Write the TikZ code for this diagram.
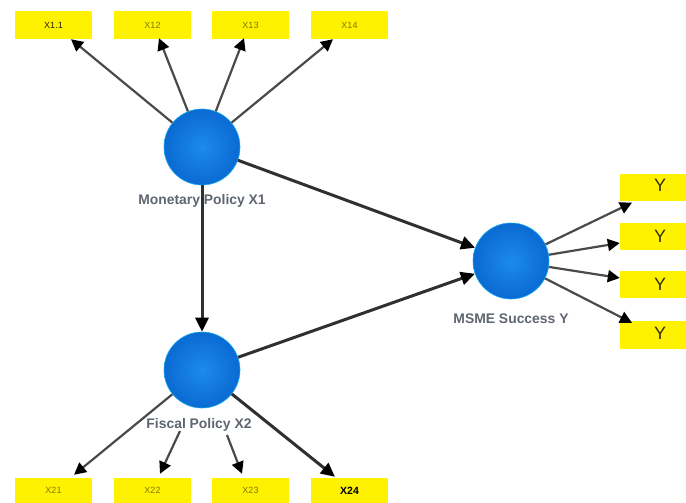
\documentclass[tikz,border=0pt]{standalone}
\usepackage{fontspec}
\setmainfont{Liberation Sans}
\usetikzlibrary{arrows.meta}
\definecolor{boxyellow}{HTML}{FFF200}
\definecolor{ballmid}{HTML}{1C8AEE}
\definecolor{ballrim}{HTML}{0A6AD2}
\definecolor{labelgrey}{HTML}{5F6670}
\definecolor{wire}{HTML}{4A4A4A}
\definecolor{wiredark}{HTML}{303030}
\tikzset{
  yellowbox/.style={fill=boxyellow,draw=none,minimum width=77pt,minimum height=28pt,inner sep=0pt,font=\fontsize{9}{10}\selectfont,text=#1},
  yellowbox/.default={black!50!boxyellow},
  ybox/.style={fill=boxyellow,draw=none,minimum width=66pt,minimum height=27pt,inner sep=0pt,font=\fontsize{18}{20}\selectfont,text=black!80!boxyellow},
  ball/.style={circle,minimum size=76pt,inner sep=0pt,draw=ballmid!70!cyan,line width=0.6pt,inner color=ballmid,outer color=ballrim},
  balllabel/.style={font=\bfseries\fontsize{13.9}{15}\selectfont,text=labelgrey,inner sep=1pt},
  wirethin/.style={wire,line width=2.2pt,-{Triangle[length=12pt,width=12pt,color=black]}},
  wirethick/.style={wiredark,line width=3pt,-{Triangle[length=14pt,width=13pt,color=black]}}
}
\newcommand{\shiftedY}{\hspace*{14pt}Y}
\begin{document}
\begin{tikzpicture}[x=1pt,y=-1pt]
\useasboundingbox (0,0) rectangle (686,503);
% top boxes
\node[yellowbox={black!85!boxyellow}] (b11) at (53.5,25) {X1.1};
\node[yellowbox] (b12) at (152.5,25) {X12};
\node[yellowbox] (b13) at (250.5,25) {X13};
\node[yellowbox] (b14) at (349.5,25) {X14};
% bottom boxes
\node[yellowbox,minimum height=25pt] (b21) at (53.5,490.5) {X21};
\node[yellowbox,minimum height=25pt] (b22) at (152.5,490.5) {X22};
\node[yellowbox,minimum height=25pt] (b23) at (250.5,490.5) {X23};
\node[yellowbox={black},minimum height=25pt,font=\bfseries\fontsize{10.5}{12}\selectfont] (b24) at (349.5,490.5) {X24};
% right boxes
\node[ybox] (y1) at (653,187) {\raisebox{3pt}{\shiftedY}};
\node[ybox] (y2) at (653,236.5) {\shiftedY};
\node[ybox] (y3) at (653,284.5) {\shiftedY};
\node[ybox,minimum height=28pt] (y4) at (653,335) {\raisebox{4pt}{\shiftedY}};
% balls
\node[ball] (c1) at (202,147) {};
\node[ball] (c2) at (202,370) {};
\node[ball] (c3) at (511,261) {};
% labels
\node[balllabel] (l1) at (202,201) {Monetary Policy X1};
\node[balllabel] (l2) at (199,425) {Fiscal Policy X2};
\node[balllabel] (l3) at (511,319) {MSME Success Y};
% free ends of the two lines that start under the label
\coordinate (s22) at (180,431);
\coordinate (s23) at (227,435);
% connectors
\draw[wirethin] (c1) -- ([xshift=17.5pt]b11.south);
\draw[wirethin] (c1) -- ([xshift=6.5pt,yshift=1pt]b12.south);
\draw[wirethin] (c1) -- ([xshift=-6.5pt,yshift=1pt]b13.south);
\draw[wirethin] (c1) -- ([xshift=-16.5pt]b14.south);
\draw[wirethin] (c2) -- ([xshift=20.5pt,yshift=3pt]b21.north);
\draw[wirethin] (s22) -- ([xshift=7.5pt,yshift=4pt]b22.north);
\draw[wirethin] (s23) -- ([xshift=-8.5pt,yshift=4pt]b23.north);
\draw[wirethick] (c2) -- ([xshift=-14.5pt,yshift=1pt]b24.north);
\draw[wirethick] (c1) -- (c2);
\draw[wirethick] (c1) -- (c3);
\draw[wirethick] (c2) -- (c3);
\draw[wirethin] (c3) -- ([xshift=-21pt,yshift=-2pt]y1.south);
\draw[wirethin] (c3) -- ([yshift=-6.5pt]y2.west);
\draw[wirethin] (c3) -- ([yshift=6.5pt]y3.west);
\draw[wirethin] (c3) -- ([xshift=-21pt,yshift=-2pt]y4.north);
\end{tikzpicture}
\end{document}
